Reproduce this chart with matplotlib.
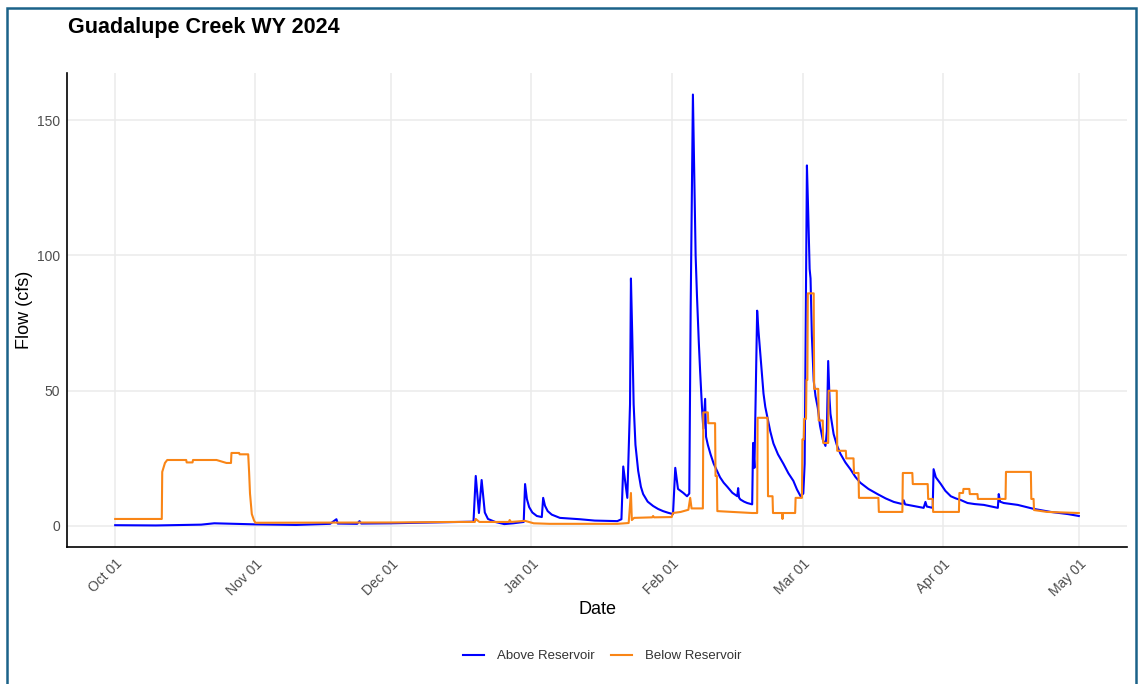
import matplotlib
matplotlib.use("Agg")
import matplotlib.pyplot as plt
import matplotlib.dates as mdates
from matplotlib.patches import Rectangle
import pandas as pd
import numpy as np

plt.rcParams['font.family'] = ['Liberation Sans', 'DejaVu Sans']

START = pd.Timestamp('2023-10-01')

# Above Reservoir: days since Oct 1 2023, flow (cfs)
above_days = [0, 9, 19, 21.9, 31, 40, 47.5, 48.9, 49.2, 53.5, 54, 54.4, 61, 70, 79.2,
              79.7, 80.4, 81.0, 81.7, 82.4, 84, 86, 88, 90.3,
              90.6, 91.0, 91.5, 92.2, 93.2, 94.3, 94.6, 95.0, 95.6, 96.5, 98.3, 102.7,
              106, 111, 111.9, 112.3, 113.2, 113.8, 114.0,
              114.3, 114.6, 115.0, 115.6, 116.2, 116.7, 117.7, 118.9, 120.0, 121.1,
              122.2, 123.3, 123.8, 124.4, 125.6, 126.4, 126.9, 127.2,
              127.7, 128.0, 128.3, 128.6, 129.0, 129.3, 129.7, 130.0, 130.4, 130.6,
              131.0, 131.6, 132.3, 133.0, 133.7, 134.5, 135.3, 136.4, 137.5, 137.7,
              137.9, 138.2, 139.0, 139.7, 140.8, 141.0, 141.3,
              141.9, 142.2, 142.6, 143.0, 143.3, 143.7, 144.2, 144.8, 145.5, 146.5,
              147.7, 148.8, 149.9, 150.7, 151.5, 152.1, 152.4,
              152.9, 153.2, 153.5, 153.7, 154.0, 154.4, 154.8, 155.3, 155.8, 156.4,
              157.0, 157.3, 157.6, 157.9, 158.1, 158.8, 159.5, 160.3, 161.4, 162.5,
              163.6, 164.7, 166.5, 168.5, 170.3, 172.1, 174.0, 174.3, 174.6, 176.5,
              178.7, 179.1, 179.4, 180.7,
              180.9, 181.4, 182.5, 183.5, 184.7, 185.8, 186.9, 188.4, 190.0, 192.0,
              195.1, 195.3, 195.6, 196.4, 199.5, 203.1, 206.8, 210.6, 213.0]
above_flow = [0.3, 0.2, 0.5, 1.0, 0.6, 0.4, 0.8, 2.5, 0.9, 0.8, 1.8, 0.9, 1.0, 1.3, 1.6,
              18.5, 4.8, 17.0, 5.0, 2.6, 1.5, 0.7, 1.0, 1.5,
              15.5, 10.0, 7.0, 5.0, 3.7, 3.3, 10.4, 7.5, 5.5, 4.2, 3.0, 2.5,
              2.0, 1.8, 2.5, 22.0, 10.4, 45.0, 91.5,
              70.0, 45.0, 30.0, 20.4, 14.5, 11.8, 9.0, 7.4, 6.3, 5.5,
              4.9, 4.4, 21.5, 13.7, 12.2, 11.0, 12.0, 80.0,
              159.5, 130.0, 100.0, 85.0, 68.0, 57.0, 44.0, 36.0, 47.0, 33.0,
              30.0, 26.5, 23.0, 20.5, 18.0, 16.0, 14.5, 12.3, 11.0, 14.0,
              10.5, 9.8, 9.0, 8.5, 8.0, 30.7, 21.5,
              79.6, 72.0, 63.7, 55.0, 49.0, 44.0, 40.0, 35.0, 30.5, 26.5,
              23.0, 19.5, 16.7, 13.5, 11.0, 12.0, 23.0,
              133.3, 115.0, 95.0, 91.5, 70.0, 53.7, 48.0, 43.7, 37.0, 32.0,
              29.6, 35.0, 61.0, 47.0, 41.5, 34.0, 30.0, 26.7, 23.5, 21.0,
              18.2, 16.0, 13.7, 11.8, 10.2, 8.9, 8.1, 9.5, 8.0, 7.4,
              6.7, 8.9, 7.2, 6.7,
              21.0, 18.0, 15.5, 13.0, 11.0, 10.2, 9.6, 8.5, 8.1, 7.8,
              6.7, 11.8, 9.0, 8.5, 7.8, 6.3, 5.2, 4.4, 3.7]

# Below Reservoir: days since Oct 1 2023, flow (cfs)
below_days = [0, 10.3, 10.4, 11.0, 11.5, 15.7, 15.8, 17.1, 17.2, 22.4, 24.6, 25.6, 25.7,
              27.4, 27.5, 29.4, 29.6, 29.8, 30.2, 30.7, 31.0, 61, 75, 79.5, 79.7, 80.5,
              87.0, 87.2, 87.5, 90.6, 92.5, 96, 111, 113.5, 114.0, 114.2, 114.7, 118.7,
              118.9, 119.1, 123.0, 123.3, 125.0, 126.7, 127.1, 127.4, 129.9, 130.0,
              131.0, 131.1, 132.6, 132.7, 133.0, 133.1, 140.8, 141.9, 142.0, 144.2,
              144.3, 145.3, 145.4, 147.4, 147.5, 147.6, 150.3, 150.4, 151.8, 151.9,
              152.2, 152.3, 152.7, 152.8, 153.0, 153.1, 154.4, 154.5, 155.4, 155.5,
              156.4, 156.5, 157.6, 157.7, 159.5, 159.6, 161.5, 161.6, 163.2, 163.3,
              164.3, 164.4, 168.7, 168.8, 174.0, 174.1, 176.2, 176.3, 179.6, 179.7,
              180.7, 180.8, 186.5, 186.6, 187.4, 187.5, 188.8, 188.9, 190.6, 190.7,
              196.8, 196.9, 202.4, 202.5, 203.0, 203.1, 206.0, 213.0]
below_flow = [2.6, 2.6, 20.0, 23.3, 24.4, 24.4, 23.5, 23.5, 24.4, 24.4, 23.3, 23.3, 27.0,
              27.0, 26.5, 26.5, 20.0, 12.0, 4.4, 2.0, 1.2, 1.3, 1.5, 1.5, 2.6, 1.5,
              1.5, 2.2, 1.5, 1.9, 1.0, 0.8, 0.8, 1.1, 12.2, 2.2, 3.0, 3.2,
              3.7, 3.2, 3.3, 4.8, 5.2, 6.0, 10.4, 6.5, 6.5, 42.0,
              42.0, 38.0, 38.0, 18.5, 18.5, 5.5, 4.8, 4.8, 40.0, 40.0,
              11.0, 11.0, 4.8, 4.8, 2.6, 4.8, 4.8, 10.4, 10.4, 32.0,
              32.0, 39.6, 39.6, 54.0, 54.0, 86.0, 86.0, 50.7, 50.7, 39.0,
              39.0, 30.7, 30.7, 50.0, 50.0, 27.8, 27.8, 25.0, 25.0, 19.6,
              19.6, 10.4, 10.4, 5.2, 5.2, 19.6, 19.6, 15.5, 15.5, 10.0,
              10.0, 5.2, 5.2, 12.2, 12.2, 13.7, 13.7, 11.8, 11.8, 10.0,
              10.0, 20.0, 20.0, 10.0, 10.0, 5.9, 5.2, 4.8]

series_names = ['Above Reservoir', 'Below Reservoir']
series_colors = ['#0000FF', '#F98516']

above_dates = START + pd.to_timedelta(above_days, unit='D')
below_dates = START + pd.to_timedelta(below_days, unit='D')

W, H = 1140, 684
fig = plt.figure(figsize=(W / 100, H / 100), dpi=100)
ax = fig.add_axes([67 / W, 1 - 547 / H, (1127 - 67) / W, (547 - 73) / H])

ax.plot(above_dates, above_flow, color=series_colors[0], lw=1.5, label=series_names[0])
ax.plot(below_dates, below_flow, color=series_colors[1], lw=1.5, label=series_names[1])

# ggplot-like expansion (5%)
x0 = min(above_dates.min(), below_dates.min())
x1 = max(above_dates.max(), below_dates.max())
xpad = (x1 - x0) * 0.05
ax.set_xlim(x0 - xpad, x1 + xpad)
allv = np.concatenate([above_flow, below_flow])
ypad = (allv.max() - allv.min()) * 0.05
ax.set_ylim(allv.min() - ypad, allv.max() + ypad)

ax.xaxis.set_major_locator(mdates.MonthLocator())
ax.xaxis.set_major_formatter(mdates.DateFormatter('%b %d'))
ax.set_yticks([0, 50, 100, 150])

ax.grid(True, color='#EBEBEB', lw=1.1)
ax.set_axisbelow(True)
for s in ['top', 'right']:
    ax.spines[s].set_visible(False)
for s in ['left', 'bottom']:
    ax.spines[s].set_color('black')
    ax.spines[s].set_linewidth(1.2)
ax.tick_params(length=0, labelsize=10, labelcolor='#4D4D4D')
ax.tick_params(axis='y', pad=5)
ax.tick_params(axis='x', pad=7)
for lbl in ax.get_xticklabels():
    lbl.set_rotation(45)
    lbl.set_ha('right')
    lbl.set_va('top')
    lbl.set_rotation_mode('anchor')

ax.set_xlabel('Date', fontsize=13, color='black', labelpad=1.5)
ax.set_ylabel('Flow (cfs)', fontsize=13, color='black', labelpad=2.5)

fig.text(68 / W, 1 - 28 / H, 'Guadalupe Creek WY 2024', fontsize=15.5, fontweight='bold',
         ha='left', va='center', color='black')

fig.legend(loc='center', bbox_to_anchor=(602 / W, 1 - 656 / H), ncol=2, frameon=False,
           fontsize=9.5, handlelength=1.6, columnspacing=1.2, handletextpad=1.0,
           labelcolor='#333333')

# outer frame
fig.patches.append(Rectangle((7 / W, -0.05), (1136 - 7) / W, (1 + 0.05) - 8 / H,
                             transform=fig.transFigure, fill=False,
                             edgecolor='#1B6289', lw=1.8, zorder=10))

fig.savefig('out.png', dpi=100)
